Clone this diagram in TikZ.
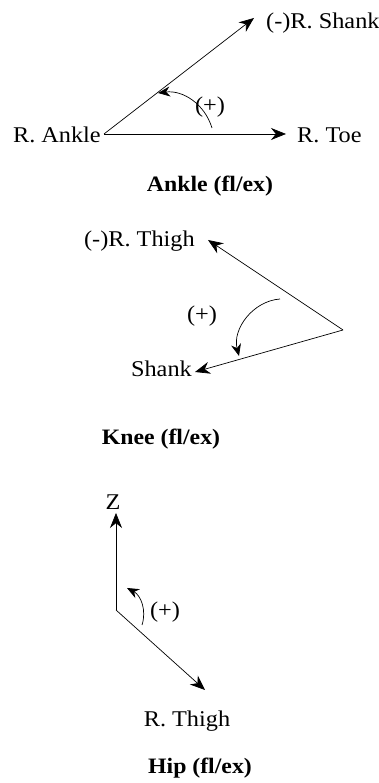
\documentclass[tikz,border=0pt]{standalone}
\usepackage{fontspec}
\setmainfont{Liberation Serif}[FakeStretch=1.08]
\usetikzlibrary{arrows.meta,positioning}

\begin{document}
\begin{tikzpicture}[
    x=1pt, y=1pt,
    seg/.style={-{Stealth[length=15pt,width=12pt]}, line width=0.7pt},
    turn/.style={-{Stealth[length=12pt,width=10pt]}, line width=0.7pt, bend right=40},
    lbl/.style={inner sep=0pt, font=\fontsize{22.5}{27}\selectfont},
    title/.style={lbl, font=\fontsize{22}{27}\selectfont\bfseries}
  ]
  \useasboundingbox (0,0) rectangle (379,783);

  % ankle
  \coordinate (av) at (104,649);
  \coordinate (toetip) at (286,649);
  \coordinate (shanktip) at (254,765);
  \node[lbl, anchor=base east] (ankle) at (101,640) {R. Ankle};
  \node[lbl, anchor=base west] (toe) at (297,640) {R. Toe};
  \node[lbl, anchor=base west] (shank) at (266,754) {(-)R. Shank};
  \node[lbl] (plusA) at (210,676) {(+)};
  \coordinate (ankfrom) at (212,655);
  \coordinate (ankto) at (158,690);
  \draw[seg] (av) -- (toetip);
  \draw[seg] (av) -- (shanktip);
  \draw[turn] (ankfrom) to (ankto);
  \node[title] (ankletitle) at (210,597) {Ankle (fl/ex)};

  % knee
  \coordinate (kv) at (343,453);
  \coordinate (thightip) at (208,543);
  \coordinate (shanktipK) at (195,411);
  \node[lbl, anchor=base east] (thigh) at (195,536) {(-)R. Thigh};
  \node[lbl, anchor=base east] (shankK) at (192,406) {Shank};
  \node[lbl] (plusK) at (202,467) {(+)};
  \coordinate (kneefrom) at (280,484);
  \coordinate (kneeto) at (239,427);
  \draw[seg] (kv) -- (thightip);
  \draw[seg] (kv) -- (shanktipK);
  \draw[turn, bend right=50] (kneefrom) to (kneeto);
  \node[title] (kneetitle) at (161,344) {Knee (fl/ex)};

  % hip
  \coordinate (hv) at (116,173);
  \coordinate (ztip) at (116,270);
  \coordinate (thightipH) at (205,93);
  \node[lbl] (zaxis) at (113,281) {Z};
  \node[lbl, anchor=base] (thighH) at (187,56) {R. Thigh};
  \node[lbl] (plusH) at (165,171) {(+)};
  \coordinate (hipfrom) at (142,158);
  \coordinate (hipto) at (127,195);
  \draw[seg] (hv) -- (ztip);
  \draw[seg] (hv) -- (thightipH);
  \draw[turn] (hipfrom) to (hipto);
  \node[title] (hiptitle) at (200,15) {Hip (fl/ex)};
\end{tikzpicture}
\end{document}
